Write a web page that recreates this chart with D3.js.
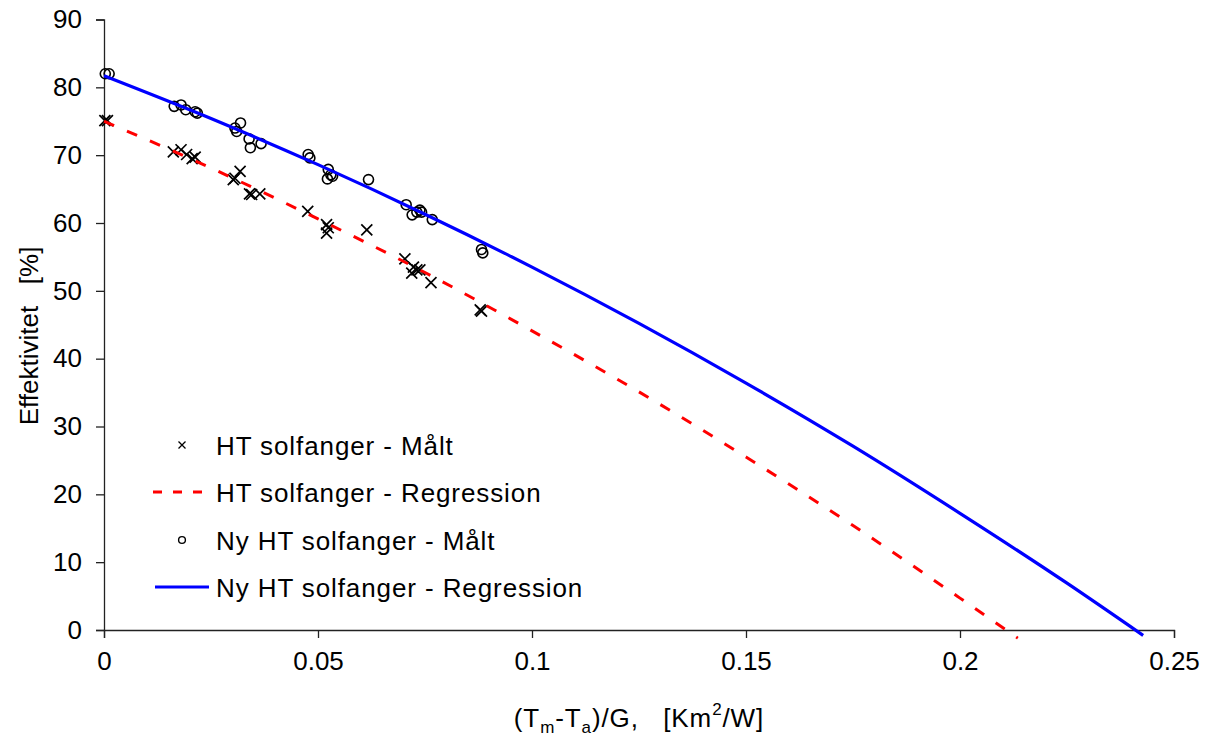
<!DOCTYPE html>
<html>
<head>
<meta charset="utf-8">
<script src="https://cdn.jsdelivr.net/npm/d3@7"></script>
<style>
  html, body { margin: 0; padding: 0; background: #fff; }
  svg { display: block; font-family: "Liberation Sans", Arial, sans-serif; }
</style>
</head>
<body>
<svg id="chart" width="1211" height="740"></svg>
<script>
// ---- data ----
const xTicks = [0, 0.05, 0.1, 0.15, 0.2, 0.25];
const xTickLabels = ["0", "0.05", "0.1", "0.15", "0.2", "0.25"];
const yTicks = [0, 10, 20, 30, 40, 50, 60, 70, 80, 90];

// HT solfanger - Målt
const htX   = [0.0002, 0.0008, 0.0162, 0.0180, 0.0193, 0.0206, 0.0213, 0.0302, 0.0306, 0.0318,
               0.0340, 0.0345, 0.0364, 0.0476, 0.0520, 0.0524, 0.0520, 0.0614, 0.0703, 0.0723,
               0.0731, 0.0719, 0.0738, 0.0764, 0.0879, 0.0882];
const htEta = [75.1, 75.1, 70.5, 70.8, 70.1, 69.5, 69.7, 66.4, 66.6, 67.6,
               64.3, 64.2, 64.3, 61.7, 59.75, 59.3, 58.5, 59.0, 54.7, 53.5,
               53.1, 52.6, 53.1, 51.2, 47.2, 47.0];

// HT solfanger - Regression
const htRegX   = [0, 0.025, 0.05, 0.075, 0.1, 0.125, 0.15, 0.175, 0.2, 0.2135];
const htRegEta = [75.0, 68.1, 60.6, 52.7, 44.1, 35.1, 25.5, 15.4, 4.7, -1.2];

// Ny HT solfanger - Målt
const nyX   = [0.0003, 0.0012, 0.0164, 0.0180, 0.0191, 0.0213, 0.0218, 0.0306, 0.0319, 0.0310,
               0.0339, 0.0342, 0.0367, 0.0477, 0.0481, 0.0524, 0.0530, 0.0522, 0.0534, 0.0618,
               0.0706, 0.0720, 0.0731, 0.0738, 0.0742, 0.0767, 0.0882, 0.0885];
const nyEta = [82.0, 82.0, 77.2, 77.4, 76.7, 76.4, 76.2, 74.0, 74.75, 73.5,
               72.4, 71.1, 71.7, 70.1, 69.6, 67.9, 67.1, 66.5, 66.9, 66.4,
               62.7, 61.2, 61.6, 61.9, 61.6, 60.5, 56.1, 55.6];

// Ny HT solfanger - Regression
const nyRegX   = [0, 0.025, 0.05, 0.075, 0.1, 0.125, 0.15, 0.175, 0.2, 0.225, 0.2428];
const nyRegEta = [81.7, 75.4, 68.6, 61.3, 53.5, 45.2, 36.4, 27.1, 17.2, 6.9, -0.8];

const legendLabels = ["HT solfanger - Målt", "HT solfanger - Regression",
                      "Ny HT solfanger - Målt", "Ny HT solfanger - Regression"];

// ---- drawing ----
const svg = d3.select("#chart");
const x = d3.scaleLinear().domain([0, 0.25]).range([104, 1174]);
const y = d3.scaleLinear().domain([0, 90]).range([630, 19.5]);
const FONT = 26;

// axes
const xAxis = d3.axisBottom(x).tickValues(xTicks)
  .tickFormat((d, i) => xTickLabels[i]).tickSize(8).tickPadding(14);
const gx = svg.append("g").attr("transform", `translate(0,${y(0)})`).call(xAxis);
gx.select(".domain").attr("stroke", "#222").attr("stroke-width", 1.3);
gx.selectAll(".tick line").attr("stroke", "#222").attr("stroke-width", 1.3);
gx.selectAll(".tick text").attr("font-size", FONT).attr("fill", "#000")
  .attr("font-family", "Liberation Sans, Arial, sans-serif");

const yAxis = d3.axisLeft(y).tickValues(yTicks).tickSize(8).tickPadding(14);
const gy = svg.append("g").attr("transform", `translate(${x(0)},0)`).call(yAxis);
gy.select(".domain").attr("stroke", "#222").attr("stroke-width", 1.3);
gy.selectAll(".tick line").attr("stroke", "#222").attr("stroke-width", 1.3);
gy.selectAll(".tick text").attr("font-size", FONT).attr("fill", "#000")
  .attr("font-family", "Liberation Sans, Arial, sans-serif");

// axis titles
const xt = svg.append("text").attr("x", 639).attr("y", 727)
  .attr("text-anchor", "middle").attr("font-size", FONT).attr("fill", "#000")
  .attr("letter-spacing", 0.9);
xt.append("tspan").text("(T");
xt.append("tspan").attr("font-size", 17).attr("baseline-shift", "-0.35em").text("m");
xt.append("tspan").text("-T");
xt.append("tspan").attr("font-size", 17).attr("baseline-shift", "-0.35em").text("a");
xt.append("tspan").style("white-space", "pre").text(")/G,   [Km");
xt.append("tspan").attr("font-size", 17).attr("baseline-shift", "0.7em").text("2");
xt.append("tspan").text("/W]");

svg.append("text").attr("transform", "translate(38,336) rotate(-90)")
  .attr("text-anchor", "middle").attr("font-size", FONT).attr("fill", "#000")
  .style("white-space", "pre").text("Effektivitet   [%]");

// series
const line = d3.line().x(d => x(d[0])).y(d => y(d[1])).curve(d3.curveMonotoneX);

function drawX(g, cx, cy, h, sw) {
  g.append("path")
    .attr("d", `M${cx - h},${cy - h}L${cx + h},${cy + h}M${cx - h},${cy + h}L${cx + h},${cy - h}`)
    .attr("stroke", "#000").attr("stroke-width", sw).attr("fill", "none");
}

const gHT = svg.append("g");
htX.forEach((v, i) => drawX(gHT, x(v), y(htEta[i]), 5.5, 1.7));

svg.append("path").datum(htRegX.map((v, i) => [v, htRegEta[i]]))
  .attr("d", line).attr("fill", "none").attr("stroke", "#ff0000")
  .attr("stroke-width", 3).attr("stroke-dasharray", "11,14");

svg.append("g").selectAll("circle").data(nyX).join("circle")
  .attr("cx", d => x(d)).attr("cy", (d, i) => y(nyEta[i])).attr("r", 5)
  .attr("fill", "none").attr("stroke", "#000").attr("stroke-width", 1.6);

svg.append("path").datum(nyRegX.map((v, i) => [v, nyRegEta[i]]))
  .attr("d", line).attr("fill", "none").attr("stroke", "#0000ff")
  .attr("stroke-width", 3.2);

// legend
const lg = svg.append("g");
const rowsY = [445, 492, 540, 587];
drawX(lg, 182, rowsY[0], 3.5, 1.3);
lg.append("line").attr("x1", 153).attr("x2", 203).attr("y1", rowsY[1]).attr("y2", rowsY[1])
  .attr("stroke", "#ff0000").attr("stroke-width", 3).attr("stroke-dasharray", "9,11");
lg.append("circle").attr("cx", 182).attr("cy", rowsY[2]).attr("r", 3.4)
  .attr("fill", "none").attr("stroke", "#000").attr("stroke-width", 1.4);
lg.append("line").attr("x1", 155).attr("x2", 209).attr("y1", rowsY[3]).attr("y2", rowsY[3])
  .attr("stroke", "#0000ff").attr("stroke-width", 3);
lg.selectAll("text.leg").data(legendLabels).join("text").attr("class", "leg")
  .attr("x", 216).attr("y", (d, i) => rowsY[i] + 9.5)
  .attr("font-size", FONT).attr("letter-spacing", 0.9).attr("fill", "#000").text(d => d);
</script>
</body>
</html>
